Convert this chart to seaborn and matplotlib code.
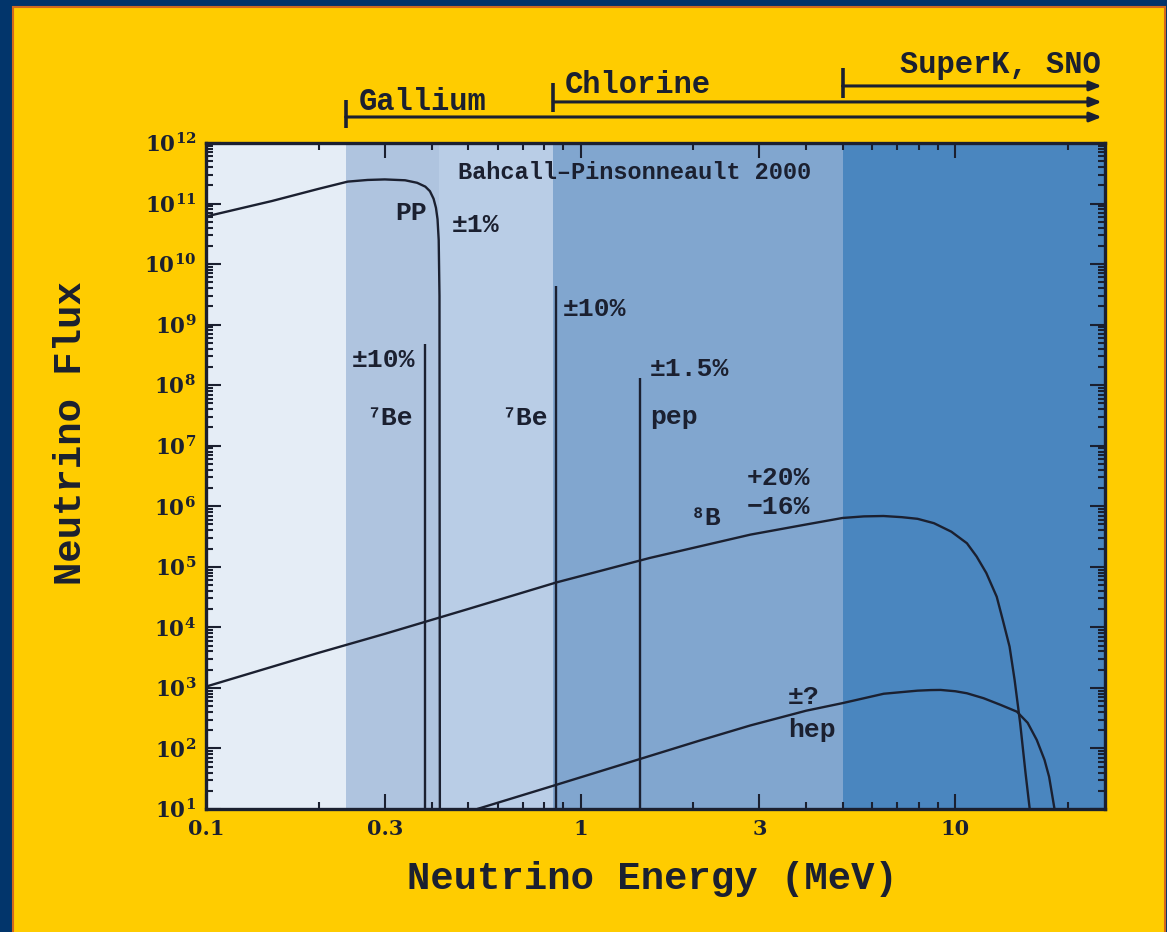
import numpy as np
import pandas as pd
import matplotlib
matplotlib.use("Agg")
import matplotlib.pyplot as plt
import matplotlib.transforms as mtransforms
from matplotlib.patches import Rectangle
from matplotlib.ticker import FixedLocator, FixedFormatter, LogLocator, NullFormatter
import seaborn as sns

# ---------------- data ----------------
pp_energy = [0.100, 0.150, 0.200, 0.239, 0.270, 0.300, 0.340, 0.366, 0.385, 0.396, 0.405, 0.411,
             0.415, 0.418, 0.420, 0.421]
pp_flux = [6.1e10, 1.1e11, 1.75e11, 2.3e11, 2.45e11, 2.5e11, 2.42e11, 2.2e11, 1.9e11, 1.6e11, 1.2e11, 8.5e10,
           5.5e10, 2.5e10, 3.0e9, 1.0e1]

b8_energy = [0.10, 0.20, 0.30, 0.50, 0.86, 1.53, 2.84, 4.0, 5.0, 5.7, 6.43, 7.2, 7.93, 8.77, 9.76, 10.74,
             11.4, 12.1, 12.9, 13.4, 13.96, 14.4, 14.9, 15.4, 15.8]
b8_flux = [1.05e3, 3.8e3, 7.8e3, 2.0e4, 5.5e4, 1.4e5, 3.4e5, 5.0e5, 6.4e5, 6.8e5, 6.9e5, 6.6e5, 6.2e5, 5.25e5,
           3.8e5, 2.45e5, 1.48e5, 7.9e4, 3.2e4, 1.3e4, 4.8e3, 1.35e3, 2.6e2, 39, 10]

hep_energy = [0.53, 0.86, 1.43, 2.08, 2.84, 4.0, 5.0, 6.44, 7.93, 8.6, 9.14, 10.0, 10.74, 11.9, 13.2, 14.6, 15.6,
              16.5, 17.3, 17.8, 18.4]
hep_flux = [10, 25, 66, 135, 240, 420, 560, 800, 900, 920, 925, 880, 815, 675, 525, 405, 265, 138, 65, 34, 10]

line_names = ["7Be", "7Be", "pep"]
line_energy = [0.384, 0.862, 1.442]
line_flux = [4.7e8, 4.3e9, 1.3e8]

band_edges = [0.1, 0.236, 0.42, 0.845, 5.0, 25.1]
band_colors = ["#E5EDF6", "#AFC4DF", "#B9CDE6", "#81A6CF", "#4A86BF"]

detector_names = ["Gallium", "Chlorine", "SuperK, SNO"]
detector_thresholds = [0.236, 0.845, 5.0]

xtick_values = [0.1, 0.3, 1, 3, 10]
xtick_labels = ["0.1", "0.3", "1", "3", "10"]
ytick_exponents = list(range(1, 13))

notes = ["Bahcall\u2013Pinsonneault 2000", "PP", "\u00b11%", "\u00b110%", "\u2077Be", "\u2077Be",
         "\u00b110%", "\u00b11.5%", "pep", "\u2078B", "+20%", "\u221216%", "\u00b1?", "hep"]

# ---------------- style ----------------
sns.set_style("ticks")
MONO = ["Liberation Mono", "DejaVu Sans Mono"]
plt.rcParams["font.family"] = MONO
plt.rcParams["font.weight"] = "bold"
plt.rcParams["mathtext.fontset"] = "dejavuserif"

NAVY = "#02356B"
YELLOW = "#FFCC00"
INK = "#1B2030"

fig = plt.figure(figsize=(11.67, 9.32), dpi=100, facecolor=NAVY)
fig.patches.append(Rectangle((0.0111, -0.01), 0.9874, 1.0025, transform=fig.transFigure,
                             facecolor=YELLOW, edgecolor="#D2691E", lw=1.5, zorder=-10))
ax = fig.add_axes([0.1765, 0.132, 0.7704, 0.7146])
ax.set_zorder(1)

# bands
for lo, hi, c in zip(band_edges[:-1], band_edges[1:], band_colors):
    ax.axvspan(lo, hi, color=c, lw=0, zorder=0)

curves = pd.concat([
    pd.DataFrame({"energy": pp_energy, "flux": pp_flux, "source": "pp"}),
    pd.DataFrame({"energy": b8_energy, "flux": b8_flux, "source": "8B"}),
    pd.DataFrame({"energy": hep_energy, "flux": hep_flux, "source": "hep"}),
], ignore_index=True)

sns.lineplot(data=curves, x="energy", y="flux", units="source", estimator=None, sort=False,
             color=INK, lw=1.7, ax=ax, legend=False, zorder=3)

ymin, ymax = 10, 1e12
ax.vlines(line_energy, ymin, line_flux, colors=INK, lw=1.7, zorder=3)

ax.set_xscale("log")
ax.set_yscale("log")
ax.set_xlim(0.1, 25.1)
ax.set_ylim(ymin, ymax)

ax.xaxis.set_major_locator(FixedLocator(xtick_values))
ax.xaxis.set_major_formatter(FixedFormatter(xtick_labels))
ax.xaxis.set_minor_locator(LogLocator(base=10, subs=np.arange(2, 10)))
ax.xaxis.set_minor_formatter(NullFormatter())
ax.yaxis.set_major_locator(FixedLocator([10.0 ** e for e in ytick_exponents]))
ax.yaxis.set_major_formatter(FixedFormatter([r"$\mathbf{10^{%d}}$" % e for e in ytick_exponents]))
ax.yaxis.set_minor_locator(LogLocator(base=10, subs=np.arange(2, 10), numticks=30))
ax.yaxis.set_minor_formatter(NullFormatter())

ax.tick_params(which="both", direction="in", top=True, right=True, color=INK, width=1.5)
ax.tick_params(which="major", length=11)
ax.tick_params(which="minor", length=5)
ax.tick_params(axis="x", which="major", pad=7)
ax.tick_params(axis="y", which="major", pad=7)
for lab in ax.get_xticklabels():
    lab.set_family("DejaVu Serif")
    lab.set_fontweight("bold")
    lab.set_fontsize(15)
    lab.set_color(INK)
for lab in ax.get_yticklabels():
    lab.set_fontsize(15.5)
    lab.set_color(INK)

for s in ax.spines.values():
    s.set_linewidth(2.4)
    s.set_color(INK)
    s.set_zorder(5)

ax.set_xlabel("Neutrino Energy (MeV)", fontsize=28, fontweight="bold", color=INK)
ax.set_ylabel("Neutrino Flux", fontsize=28, fontweight="bold", color=INK)
ax.xaxis.set_label_coords(0.497, -0.078)
ax.yaxis.set_label_coords(-0.13, 0.565)

# annotations inside plot
note_pos = [(0.47, 10 ** 11.51, "left", 17), (0.39, 10 ** 10.85, "right", 19), (0.454, 10 ** 10.65, "left", 19),
            (0.362, 10 ** 8.42, "right", 19), (0.357, 10 ** 7.46, "right", 19), (0.818, 10 ** 7.46, "right", 19),
            (0.897, 10 ** 9.25, "left", 19), (1.53, 10 ** 8.26, "left", 19), (1.53, 10 ** 7.48, "left", 19),
            (2.37, 10 ** 5.81, "right", 19), (2.78, 10 ** 6.47, "left", 19), (2.78, 10 ** 5.98, "left", 19),
            (3.58, 10 ** 2.85, "left", 19), (3.58, 10 ** 2.31, "left", 19)]
for txt, (xx, yy, ha, fs) in zip(notes, note_pos):
    ax.text(xx, yy, txt, ha=ha, va="center", fontsize=fs, fontweight="bold", color=INK,
            family=MONO, zorder=4)

# detector threshold bars above the plot
trans = mtransforms.blended_transform_factory(ax.transData, ax.transAxes)
bar_y = [1.039, 1.0616, 1.0856]
tick_span = [(1.0225, 1.0646), (1.0465, 1.090), (1.0676, 1.1126)]
label_x = [0.255, 0.909, 7.1]
label_y = [1.0495, 1.075, 1.105]
arrow_end = 24.6
for name, thr, yb, (t0, t1), lx, ly in zip(detector_names, detector_thresholds, bar_y, tick_span, label_x, label_y):
    ax.annotate("", xy=(arrow_end, yb), xytext=(thr, yb), xycoords=trans, textcoords=trans,
                arrowprops=dict(arrowstyle="-|>,head_length=0.7,head_width=0.28", color=INK, lw=2.2,
                                shrinkA=0, shrinkB=0), annotation_clip=False)
    ax.plot([thr, thr], [t0, t1], transform=trans, clip_on=False, color=INK, lw=2.6,
            solid_capstyle="butt")
    ax.text(lx, ly, name, transform=trans, ha="left", va="baseline", fontsize=22,
            fontweight="bold", color=INK, family=MONO)

fig.savefig("out.png", dpi=100, facecolor=fig.get_facecolor())
